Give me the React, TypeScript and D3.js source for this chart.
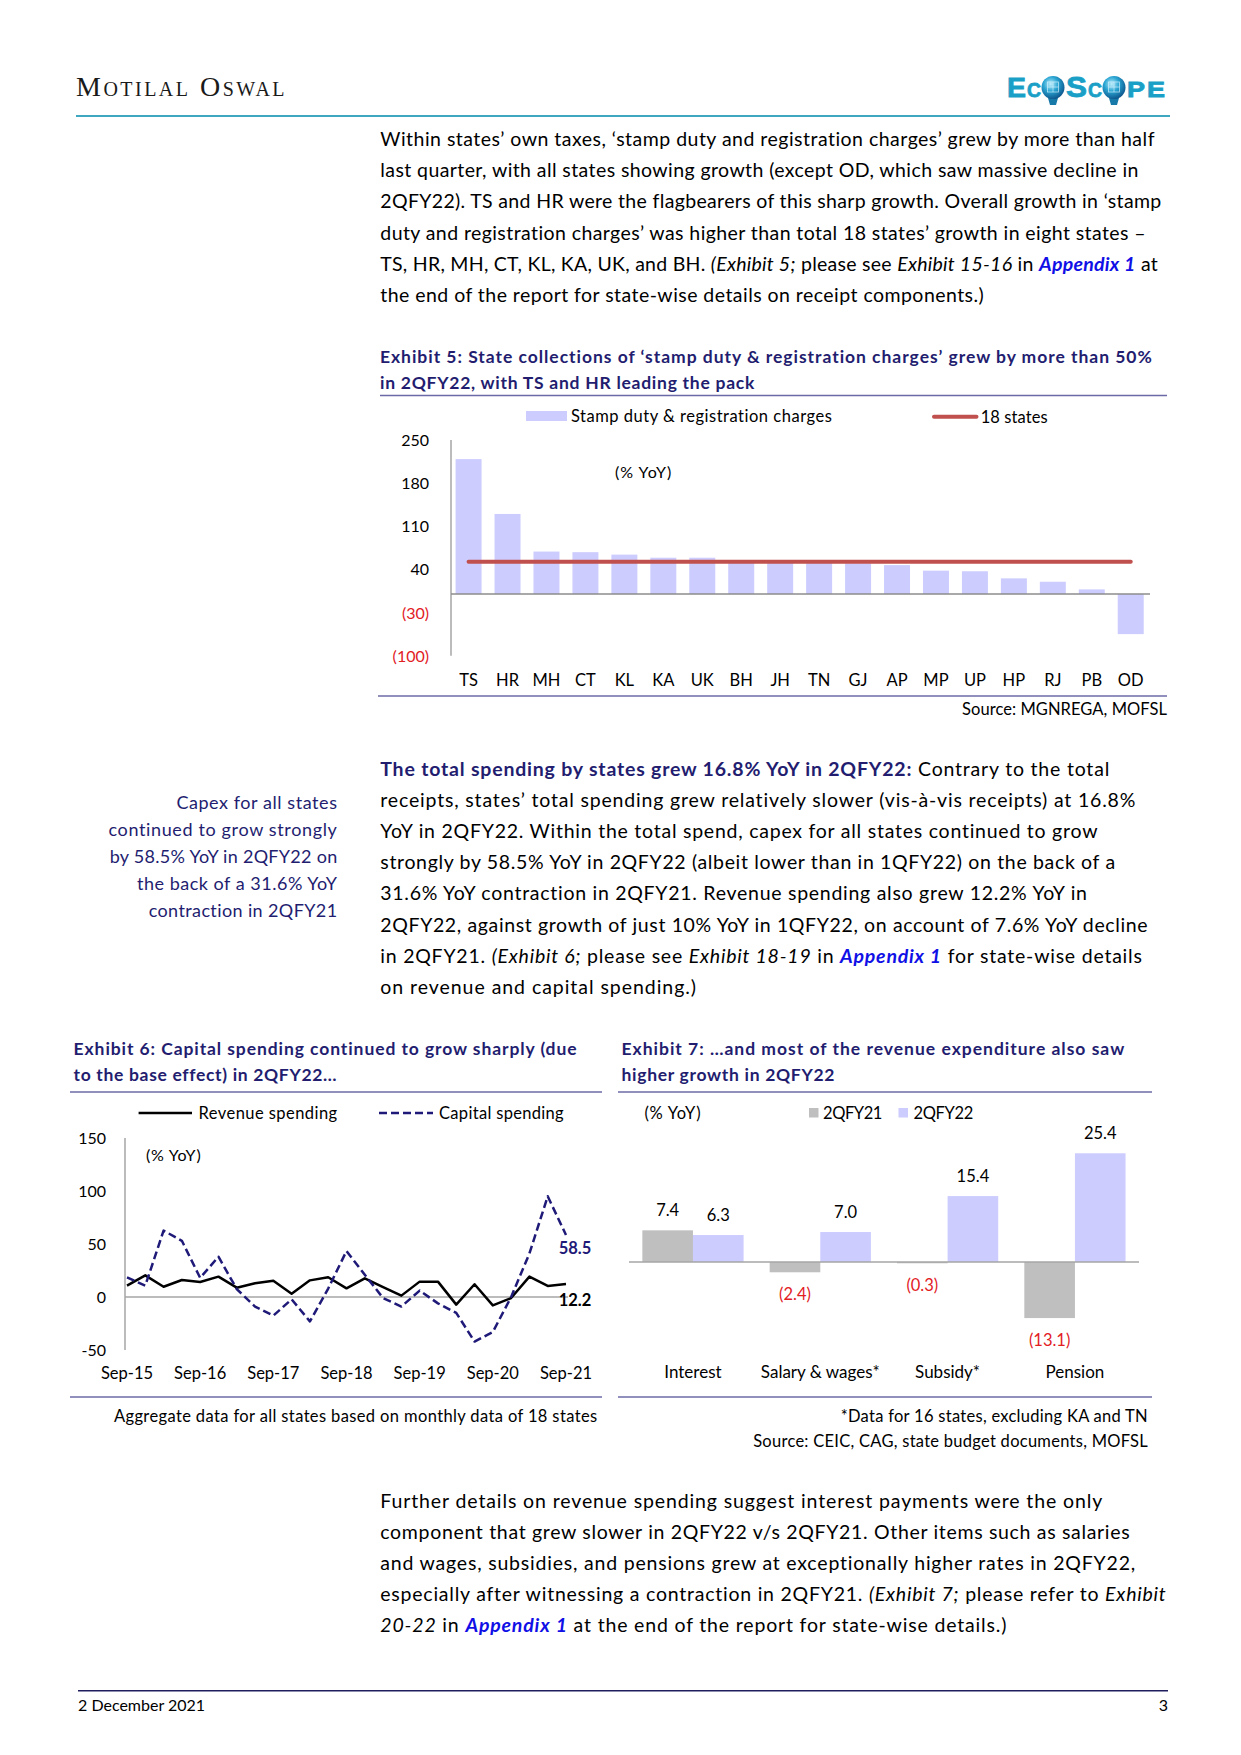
import React from 'react';
import * as d3 from 'd3';

// ---------------- DATA ----------------
// Exhibit 5
const ex5States = ['TS', 'HR', 'MH', 'CT', 'KL', 'KA', 'UK', 'BH', 'JH', 'TN', 'GJ', 'AP', 'MP', 'UP', 'HP', 'RJ', 'PB', 'OD'];
const ex5Stamp = [219, 130, 69, 68, 64, 59, 59, 55, 52, 51, 50, 47, 38, 37, 25.5, 20, 7.6, -65];
const ex5Total18 = 52.5;
const ex5Ticks = [250, 180, 110, 40, -30, -100];

// Exhibit 6
const ex6Quarters = [
  'Sep-15', 'Dec-15', 'Mar-16', 'Jun-16', 'Sep-16', 'Dec-16', 'Mar-17', 'Jun-17', 'Sep-17', 'Dec-17',
  'Mar-18', 'Jun-18', 'Sep-18', 'Dec-18', 'Mar-19', 'Jun-19', 'Sep-19', 'Dec-19', 'Mar-20', 'Jun-20',
  'Sep-20', 'Dec-20', 'Mar-21', 'Jun-21', 'Sep-21',
];
const ex6Revenue = [10.7, 20.4, 9.7, 16, 14.2, 19.2, 8.8, 12.9, 15.4, 3.1, 15.7, 18.6, 8.2, 17.6, 9.4, 1.3, 14.5, 14.5, -7.2, 12, -7.9, -1, 19.2, 10.4, 12.2];
const ex6Capital = [18.6, 10.7, 62.6, 53, 18, 38, 7.5, -9, -17.6, -2.2, -23, 8, 43.4, 21, -1, -9, 6, -6, -15, -42, -33, 0, 41, 95, 58.5];
const ex6XTicks = ['Sep-15', 'Sep-16', 'Sep-17', 'Sep-18', 'Sep-19', 'Sep-20', 'Sep-21'];
const ex6YTicks = [150, 100, 50, 0, -50];

// Exhibit 7
const ex7Categories = ['Interest', 'Salary & wages*', 'Subsidy*', 'Pension'];
const ex7Series = ['2QFY21', '2QFY22'];
const ex7FY21 = [7.4, -2.4, -0.3, -13.1];
const ex7FY22 = [6.3, 7.0, 15.4, 25.4];

// ---------------- TEXT ----------------
type St = 'n' | 'i' | 'b' | 'l' | 'bb';
type Seg = { t: string; s?: St; size?: number; fill?: string };

const para1: Seg[][] = [
  [{ t: 'Within states’ own taxes, ‘stamp duty and registration charges’ grew by more than half' }],
  [{ t: 'last quarter, with all states showing growth (except OD, which saw massive decline in' }],
  [{ t: '2QFY22). TS and HR were the flagbearers of this sharp growth. Overall growth in ‘stamp' }],
  [{ t: 'duty and registration charges’ was higher than total 18 states’ growth in eight states –' }],
  [
    { t: 'TS, HR, MH, CT, KL, KA, UK, and BH. ' }, { t: '(Exhibit 5;', s: 'i' }, { t: ' please see ' },
    { t: 'Exhibit 15-16', s: 'i' }, { t: ' in ' }, { t: 'Appendix 1', s: 'l' }, { t: ' at' },
  ],
  [{ t: 'the end of the report for state-wise details on receipt components.)' }],
];
const para1Ends = [1157, 1140, 1163, 1148, 1158, 985];

const para2: Seg[][] = [
  [{ t: 'The total spending by states grew 16.8% YoY in 2QFY22:', s: 'b' }, { t: ' Contrary to the total' }],
  [{ t: 'receipts, states’ total spending grew relatively slower (vis-à-vis receipts) at 16.8%' }],
  [{ t: 'YoY in 2QFY22. Within the total spend, capex for all states continued to grow' }],
  [{ t: 'strongly by 58.5% YoY in 2QFY22 (albeit lower than in 1QFY22) on the back of a' }],
  [{ t: '31.6% YoY contraction in 2QFY21. Revenue spending also grew 12.2% YoY in' }],
  [{ t: '2QFY22, against growth of just 10% YoY in 1QFY22, on account of 7.6% YoY decline' }],
  [
    { t: 'in 2QFY21. ' }, { t: '(Exhibit 6;', s: 'i' }, { t: ' please see ' }, { t: 'Exhibit 18-19', s: 'i' },
    { t: ' in ' }, { t: 'Appendix 1', s: 'l' }, { t: ' for state-wise details' },
  ],
  [{ t: 'on revenue and capital spending.)' }],
];
const para2Ends = [1113, 1138, 1100, 1119, 1091.5, 1152, 1143, 697];

const sideNote = ['Capex for all states', 'continued to grow strongly', 'by 58.5% YoY in 2QFY22 on', 'the back of a 31.6% YoY', 'contraction in 2QFY21'];
const sideStarts = [176, 107.8, 107.8, 136, 148.4];

const para3: Seg[][] = [
  [{ t: 'Further details on revenue spending suggest interest payments were the only' }],
  [{ t: 'component that grew slower in 2QFY22 v/s 2QFY21. Other items such as salaries' }],
  [{ t: 'and wages, subsidies, and pensions grew at exceptionally higher rates in 2QFY22,' }],
  [{ t: 'especially after witnessing a contraction in 2QFY21. ' }, { t: '(Exhibit 7;', s: 'i' }, { t: ' please refer to ' }, { t: 'Exhibit', s: 'i' }],
  [{ t: '20-22', s: 'i' }, { t: ' in ' }, { t: 'Appendix 1', s: 'l' }, { t: ' at the end of the report for state-wise details.)' }],
];
const para3Ends = [1104, 1132, 1138, 1168, 1008];

// ---------------- STYLE ----------------
const FAM = 'Lato';
const FONT = 'Lato, "Open Sans", sans-serif';
const NAVY = '#231d70';
const LINK = '#1010e6';
const RED = '#e2201f';
const RULE = '#6c6aa6';
const AXIS = '#a6a6a6';
const LAV = '#ccccff';
const GREY = '#bfbfbf';
const BRICK = '#c0504d';
const DASH = '#1f1a78';
const TEAL = '#1a9fc7';

let _ctx: CanvasRenderingContext2D | null = null;
function measure(text: string, size: number, weight: string, style: string, fam: string) {
  if (!_ctx) _ctx = document.createElement('canvas').getContext('2d');
  if (!_ctx) return text.length * size * 0.5;
  _ctx.font = `${style} ${weight} ${size}px ${fam}`;
  return _ctx.measureText(text).width;
}

function segStyle(s: St | undefined) {
  switch (s) {
    case 'i': return { weight: '400', style: 'italic', fill: '#000' };
    case 'b': return { weight: '700', style: 'normal', fill: NAVY };
    case 'bb': return { weight: '700', style: 'normal', fill: '#000' };
    case 'l': return { weight: '700', style: 'italic', fill: LINK };
    default: return { weight: '400', style: 'normal', fill: '#000' };
  }
}

function FitText(props: {
  x: number; y: number; segs: Seg[]; size: number; width?: number;
  anchor?: 'start' | 'middle' | 'end'; fill?: string; fam?: string; base?: St;
}) {
  const { x, y, segs, size, width, anchor = 'start', fill, fam = FAM, base } = props;
  let natural = 0;
  let n = 0;
  segs.forEach((sg) => {
    const st = segStyle(sg.s ?? base);
    natural += measure(sg.t, sg.size ?? size, st.weight, st.style, fam);
    n += sg.t.length;
  });
  const ls = width ? (width - natural) / Math.max(1, n) : 0;
  return (
    <text x={x} y={y} fontFamily={fam === FAM ? FONT : fam} fontSize={size} textAnchor={anchor} style={{ whiteSpace: 'pre' }}>
      {segs.map((sg, i) => {
        const st = segStyle(sg.s ?? base);
        return (
          <tspan key={i} fontWeight={st.weight} fontStyle={st.style} fontSize={sg.size ?? size}
            fill={sg.fill ?? fill ?? st.fill} style={{ letterSpacing: `${ls}px` }}>
            {sg.t}
          </tspan>
        );
      })}
    </text>
  );
}

const fmtParen = (v: number, dec = 0) => (v < 0 ? `(${Math.abs(v).toFixed(dec)})` : v.toFixed(dec));

// ---------------- HEADER ----------------
function Header() {
  const letters: { ch: string; x: number; w: number; size: number }[] = [
    { ch: 'E', x: 1007, w: 19, size: 28 },
    { ch: 'C', x: 1027, w: 14, size: 21 },
    { ch: 'S', x: 1066, w: 21, size: 30 },
    { ch: 'C', x: 1088, w: 14, size: 21 },
    { ch: 'P', x: 1127, w: 18, size: 22 },
    { ch: 'E', x: 1147, w: 18, size: 22 },
  ];
  return (
    <g>
      <defs>
        <radialGradient id="globe" cx="40%" cy="35%" r="70%">
          <stop offset="0%" stopColor="#bfeefc" />
          <stop offset="45%" stopColor="#2aa5d2" />
          <stop offset="100%" stopColor="#0b4f86" />
        </radialGradient>
      </defs>
      <FitText x={76} y={96} size={28} width={211} fam="Liberation Serif" fill="#1a1a1a"
        segs={[{ t: 'M' }, { t: 'OTILAL', size: 20 }, { t: ' O' }, { t: 'SWAL', size: 20 }]} />
      <line x1={76} x2={1170} y1={116} y2={116} stroke="#3fa7c0" strokeWidth={2} />
      <g fontFamily='"Liberation Sans", Arial, sans-serif' fontWeight={700} fill={TEAL} stroke={TEAL} strokeWidth={0.8}>
        {letters.map((l, i) => (
          <text key={i} x={l.x} y={97} fontSize={l.size} textLength={l.w} lengthAdjust="spacingAndGlyphs">{l.ch}</text>
        ))}
      </g>
      {[1053, 1114].map((cx) => (
        <g key={cx}>
          <path d={`M${cx - 5},${98} L${cx + 5},${98} L${cx + 3},${105} L${cx - 3},${105} Z`} fill="#1779a8" />
          <circle cx={cx} cy={87.5} r={11.5} fill="url(#globe)" />
          <rect x={cx - 5.5} y={82} width={11} height={10} fill="none" stroke="#d8f4ff" strokeWidth={0.8} opacity={0.8} />
          <line x1={cx - 5.5} x2={cx + 5.5} y1={87} y2={87} stroke="#d8f4ff" strokeWidth={0.6} />
          <line x1={cx} x2={cx} y1={82} y2={92} stroke="#d8f4ff" strokeWidth={0.6} />
        </g>
      ))}
    </g>
  );
}

// ---------------- EXHIBIT 5 ----------------
function Exhibit5() {
  const x = d3.scaleBand<string>().domain(ex5States).range([449.1, 1150.2]).paddingInner(0.333).paddingOuter(0.1665);
  const y = d3.scaleLinear().domain([-100, 250]).range([655.7, 440]);
  const y0 = y(0);
  const first = x(ex5States[0])! + x.bandwidth() / 2;
  const last = x(ex5States[ex5States.length - 1])! + x.bandwidth() / 2;
  return (
    <g>
      <FitText x={380} y={363} size={17.5} base="b" width={775}
        segs={[{ t: 'Exhibit 5: State collections of ‘stamp duty & registration charges’ grew by more than 50%' }]} />
      <FitText x={380} y={389} size={17.5} base="b" width={376}
        segs={[{ t: 'in 2QFY22, with TS and HR leading the pack' }]} />
      <line x1={380} x2={1167} y1={395.5} y2={395.5} stroke={RULE} strokeWidth={1.6} />
      {/* legend */}
      <rect x={526} y={411} width={41} height={10} fill={LAV} />
      <FitText x={571} y={422} size={16.5} width={262} segs={[{ t: 'Stamp duty & registration charges' }]} />
      <line x1={934} x2={976.5} y1={416.7} y2={416.7} stroke={BRICK} strokeWidth={4} strokeLinecap="round" />
      <FitText x={980.7} y={422.5} size={16.5} width={67} segs={[{ t: '18 states' }]} />
      <FitText x={615} y={478} size={16} width={58} segs={[{ t: '(% YoY)' }]} />
      {/* bars */}
      {ex5States.map((s, i) => {
        const v = ex5Stamp[i];
        return (
          <rect key={s} x={x(s)} width={x.bandwidth()} y={Math.min(y(v), y0)} height={Math.abs(y(v) - y0)} fill={LAV} />
        );
      })}
      {/* axes */}
      <line x1={451} x2={451} y1={y(250)} y2={y(-100)} stroke={AXIS} strokeWidth={1.5} />
      <line x1={451} x2={1150} y1={y0} y2={y0} stroke="#8c8c8c" strokeWidth={1.5} />
      {ex5Ticks.map((t) => (
        <text key={t} x={429} y={y(t) + 6} fontFamily={FONT} fontSize={16} textAnchor="end" fill={t < 0 ? RED : '#000'}>
          {fmtParen(t)}
        </text>
      ))}
      {/* 18 states line */}
      <line x1={first} x2={last} y1={y(ex5Total18)} y2={y(ex5Total18)} stroke={BRICK} strokeWidth={4} strokeLinecap="round" />
      {ex5States.map((s) => (
        <text key={s} x={x(s)! + x.bandwidth() / 2} y={686} fontFamily={FONT} fontSize={16.5} textAnchor="middle">{s}</text>
      ))}
      <line x1={378} x2={1167} y1={696} y2={696} stroke={RULE} strokeWidth={1.6} />
      <FitText x={1167} y={715} size={16.5} width={205} anchor="end" segs={[{ t: 'Source: MGNREGA, MOFSL' }]} />
    </g>
  );
}

// ---------------- EXHIBIT 6 ----------------
function Exhibit6() {
  const x = d3.scalePoint<string>().domain(ex6Quarters).range([127, 566]);
  const y = d3.scaleLinear().domain([-50, 150]).range([1350, 1138]);
  const line = d3.line<number>().x((_, i) => x(ex6Quarters[i])!).y((d) => y(d));
  const lastQ = ex6Quarters[ex6Quarters.length - 1];
  const lastCap = ex6Capital[ex6Capital.length - 1];
  const lastRev = ex6Revenue[ex6Revenue.length - 1];
  return (
    <g>
      <FitText x={73.6} y={1055} size={17.5} base="b" width={505}
        segs={[{ t: 'Exhibit 6: Capital spending continued to grow sharply (due' }]} />
      <FitText x={73.6} y={1081} size={17.5} base="b" width={263}
        segs={[{ t: 'to the base effect) in 2QFY22…' }]} />
      <line x1={70} x2={602} y1={1092} y2={1092} stroke={RULE} strokeWidth={1.6} />
      {/* legend */}
      <line x1={138.6} x2={192} y1={1113} y2={1113} stroke="#000" strokeWidth={2.5} />
      <FitText x={198.6} y={1119} size={16.5} width={139} segs={[{ t: 'Revenue spending' }]} />
      <line x1={379} x2={433} y1={1113} y2={1113} stroke={DASH} strokeWidth={2.5} strokeDasharray="8,4" />
      <FitText x={439} y={1119} size={16.5} width={125} segs={[{ t: 'Capital spending' }]} />
      <FitText x={146} y={1161} size={16} width={56} segs={[{ t: '(% YoY)' }]} />
      {/* axes */}
      <line x1={125} x2={125} y1={y(150)} y2={y(-50)} stroke={AXIS} strokeWidth={1.5} />
      <line x1={125} x2={568} y1={y(0)} y2={y(0)} stroke={AXIS} strokeWidth={1.5} />
      {ex6YTicks.map((t) => (
        <text key={t} x={106} y={y(t) + 6} fontFamily={FONT} fontSize={16} textAnchor="end">{t}</text>
      ))}
      {ex6XTicks.map((q) => (
        <text key={q} x={x(q)} y={1379} fontFamily={FONT} fontSize={16.5} textAnchor="middle">{q}</text>
      ))}
      <path d={line(ex6Revenue) ?? ''} fill="none" stroke="#000" strokeWidth={2.5} strokeLinejoin="round" />
      <path d={line(ex6Capital) ?? ''} fill="none" stroke={DASH} strokeWidth={2.5} strokeDasharray="8,4" strokeLinejoin="round" />
      <text x={x(lastQ)! + 9} y={y(lastCap) + 19} fontFamily={FONT} fontSize={16.5} fontWeight={700} fill={DASH} textAnchor="middle">
        {lastCap.toFixed(1)}
      </text>
      <text x={x(lastQ)! + 9} y={y(lastRev) + 22} fontFamily={FONT} fontSize={16.5} fontWeight={700} fill="#000" textAnchor="middle">
        {lastRev.toFixed(1)}
      </text>
      <line x1={70} x2={602} y1={1397} y2={1397} stroke={RULE} strokeWidth={1.6} />
      <FitText x={597.5} y={1422} size={16.5} width={484.6} anchor="end"
        segs={[{ t: 'Aggregate data for all states based on monthly data of 18 states' }]} />
    </g>
  );
}

// ---------------- EXHIBIT 7 ----------------
function Exhibit7() {
  const x = d3.scaleBand<string>().domain(ex7Categories).range([629.3, 1138.6]).paddingInner(0.205).paddingOuter(0.1025);
  const xs = d3.scaleBand<string>().domain(ex7Series).range([0, x.bandwidth()]);
  const y = d3.scaleLinear().domain([-15, 28]).range([1262 + 15 * 4.28, 1262 - 28 * 4.28]);
  const y0 = y(0);
  const seriesVals = [ex7FY21, ex7FY22];
  const seriesFill = [GREY, LAV];
  return (
    <g>
      <FitText x={621.5} y={1055} size={17.5} base="b" width={504}
        segs={[{ t: 'Exhibit 7: …and most of the revenue expenditure also saw' }]} />
      <FitText x={621.5} y={1081} size={17.5} base="b" width={214}
        segs={[{ t: 'higher growth in 2QFY22' }]} />
      <line x1={618} x2={1152} y1={1092} y2={1092} stroke={RULE} strokeWidth={1.6} />
      {/* legend */}
      <FitText x={644.4} y={1119} size={16.5} width={57.5} segs={[{ t: '(% YoY)' }]} />
      <rect x={809} y={1108} width={9.5} height={9.5} fill={GREY} />
      <FitText x={823} y={1119} size={16.5} width={59} segs={[{ t: ex7Series[0] }]} />
      <rect x={898.5} y={1108} width={9.5} height={9.5} fill={LAV} />
      <FitText x={913.6} y={1119} size={16.5} width={59.3} segs={[{ t: ex7Series[1] }]} />
      {/* bars */}
      {ex7Categories.map((c, ci) => (
        <g key={c}>
          {ex7Series.map((s, si) => {
            const v = seriesVals[si][ci];
            const bx = x(c)! + xs(s)!;
            const cx = bx + xs.bandwidth() / 2;
            return (
              <g key={s}>
                <rect x={bx} width={xs.bandwidth()} y={Math.min(y(v), y0)} height={Math.max(1, Math.abs(y(v) - y0))} fill={seriesFill[si]} />
                <text x={cx} y={v >= 0 ? y(v) - 14 : y(v) + 28} fontFamily={FONT} fontSize={16.5} textAnchor="middle" fill={v < 0 ? RED : '#000'}>
                  {fmtParen(v, 1)}
                </text>
              </g>
            );
          })}
          <text x={x(c)! + x.bandwidth() / 2} y={1378} fontFamily={FONT} fontSize={17} textAnchor="middle">{c}</text>
        </g>
      ))}
      <line x1={629} x2={1139} y1={y0} y2={y0} stroke={AXIS} strokeWidth={1.5} />
      <line x1={618} x2={1152} y1={1397} y2={1397} stroke={RULE} strokeWidth={1.6} />
      <FitText x={1148} y={1422} size={16.5} width={308.7} anchor="end" segs={[{ t: '*Data for 16 states, excluding KA and TN' }]} />
      <FitText x={1148} y={1447} size={16.5} width={394.8} anchor="end" segs={[{ t: 'Source: CEIC, CAG, state budget documents, MOFSL' }]} />
    </g>
  );
}

// ---------------- PAGE ----------------
function Paragraph({ lines, ends, x0, y0, step }: { lines: Seg[][]; ends: number[]; x0: number; y0: number; step: number }) {
  return (
    <g>
      {lines.map((segs, i) => (
        <FitText key={i} x={x0} y={y0 + i * step} size={19.5} width={ends[i] - x0} segs={segs} />
      ))}
    </g>
  );
}

export default function App() {
  return (
    <div style={{ position: 'absolute', left: 0, top: 0, width: 1241, height: 1755, background: '#fff' }}>
      <svg width={1241} height={1755} viewBox="0 0 1241 1755" style={{ display: 'block' }}>
        <rect width={1241} height={1755} fill="#fff" />
        <Header />
        <Paragraph lines={para1} ends={para1Ends} x0={380.3} y0={146} step={31.2} />
        <Exhibit5 />
        <Paragraph lines={para2} ends={para2Ends} x0={380.3} y0={776} step={31.1} />
        {sideNote.map((t, i) => (
          <FitText key={i} x={337.5} y={809 + i * 27} size={18} anchor="end" width={337.5 - sideStarts[i]}
            fill={NAVY} segs={[{ t }]} />
        ))}
        <Exhibit6 />
        <Exhibit7 />
        <Paragraph lines={para3} ends={para3Ends} x0={380.3} y0={1507.7} step={31.1} />
        <line x1={78} x2={1168} y1={1690.7} y2={1690.7} stroke="#1f1d5c" strokeWidth={1.5} />
        <text x={78} y={1711} fontFamily={FONT} fontSize={16}>2 December 2021</text>
        <text x={1168} y={1711} fontFamily={FONT} fontSize={16} textAnchor="end">3</text>
      </svg>
    </div>
  );
}
